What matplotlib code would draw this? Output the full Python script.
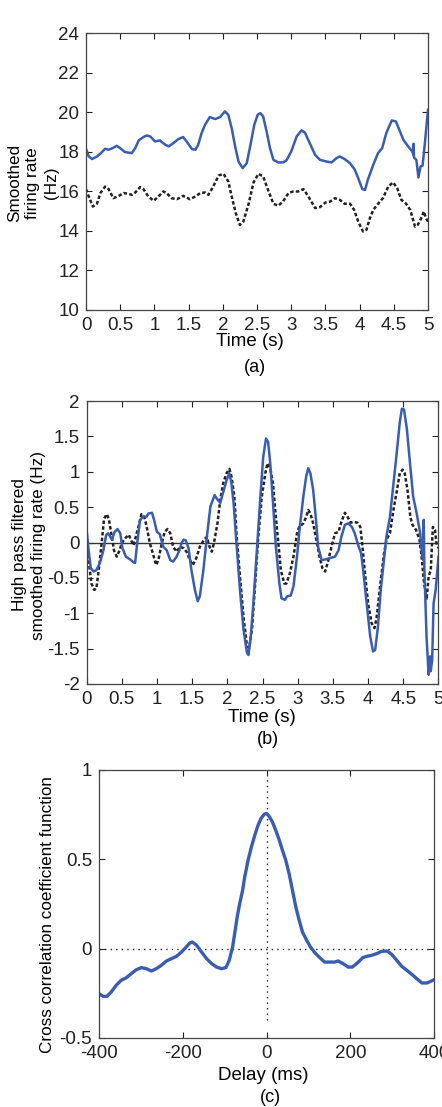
import numpy as np
import matplotlib
matplotlib.use("Agg")
from matplotlib import pyplot as plt

plt.rcParams['font.family'] = ['Liberation Sans', 'DejaVu Sans']

BLUE = '#3a5db3'
DARK = '#222222'

# ---- panel (a): smoothed firing rate ----
t_a_blue = [0, 0.04, 0.09, 0.16, 0.21, 0.28, 0.33, 0.40, 0.45, 0.50, 0.57, 0.67, 0.72, 0.77,
            0.84, 0.89, 0.94, 1.01, 1.08, 1.16, 1.21, 1.28, 1.35, 1.42, 1.47, 1.55, 1.60,
            1.64, 1.69, 1.74, 1.81, 1.89, 1.96, 2.03, 2.08, 2.13, 2.18, 2.23, 2.29, 2.35,
            2.40, 2.46, 2.51, 2.55, 2.59, 2.64, 2.69, 2.74, 2.81, 2.88, 2.93, 3.00, 3.08,
            3.15, 3.20, 3.27, 3.35, 3.42, 3.52, 3.59, 3.66, 3.71, 3.78, 3.86, 3.93, 3.98,
            4.04, 4.08, 4.12, 4.20, 4.27, 4.33, 4.39, 4.47, 4.53, 4.59, 4.64, 4.71, 4.77,
            4.785, 4.79, 4.795, 4.83, 4.86, 4.89, 4.92, 4.95, 5.0]
v_a_blue = [18.15, 17.76, 17.63, 17.76, 17.9, 18.15, 18.1, 18.2, 18.3, 18.18, 17.98, 17.93,
            18.18, 18.57, 18.74, 18.82, 18.77, 18.52, 18.57, 18.35, 18.27, 18.44, 18.64,
            18.74, 18.52, 18.13, 18.1, 18.35, 18.94, 19.36, 19.75, 19.65, 19.75, 20.04,
            19.87, 19.19, 18.27, 17.5, 17.17, 17.42, 18.27, 19.36, 19.87, 19.95, 19.78,
            19.03, 18.18, 17.59, 17.46, 17.46, 17.56, 18.01, 18.77, 19.08, 18.97, 18.44,
            17.84, 17.59, 17.5, 17.46, 17.67, 17.76, 17.63, 17.42, 17.09, 16.66, 16.11,
            16.07, 16.58, 17.34, 17.93, 18.18, 18.94, 19.58, 19.53, 19.03, 18.6, 18.27,
            18.01, 17.85, 18.4, 17.7, 17.59, 16.7, 17.25, 17.29, 18.27, 20.12]

t_a_black = [0, 0.04, 0.10, 0.16, 0.21, 0.28, 0.33, 0.40, 0.48, 0.55, 0.62, 0.67, 0.72,
             0.79, 0.84, 0.91, 0.99, 1.06, 1.13, 1.18, 1.25, 1.33, 1.42, 1.52, 1.60, 1.67,
             1.74, 1.79, 1.86, 1.94, 2.01, 2.08, 2.13, 2.19, 2.25, 2.30, 2.38, 2.45, 2.52,
             2.59, 2.67, 2.74, 2.81, 2.88, 2.96, 3.03, 3.10, 3.18, 3.25, 3.35, 3.42, 3.50,
             3.57, 3.64, 3.71, 3.78, 3.86, 3.92, 3.98, 4.05, 4.10, 4.15, 4.20, 4.27, 4.34,
             4.42, 4.49, 4.55, 4.61, 4.68, 4.74, 4.81, 4.85, 4.90, 4.94, 4.97, 5.0]
v_a_black = [16.11, 15.74, 15.23, 15.37, 15.91, 16.24, 16.11, 15.65, 15.77, 15.91, 15.87,
             15.82, 15.94, 16.21, 16.11, 15.74, 15.52, 15.74, 15.99, 15.91, 15.65, 15.6,
             15.77, 15.6, 15.74, 15.91, 15.94, 15.82, 16.24, 16.8, 16.88, 16.5, 15.74,
             14.89, 14.3, 14.47, 15.4, 16.45, 16.88, 16.75, 15.99, 15.37, 15.27, 15.48,
             15.91, 15.99, 15.99, 16.11, 15.74, 15.15, 15.2, 15.43, 15.48, 15.65, 15.57,
             15.37, 15.37, 15.06, 14.47, 13.97, 14.05, 14.64, 15.06, 15.37, 15.65, 16.24,
             16.45, 16.16, 15.57, 15.37, 15.06, 14.22, 14.3, 14.64, 14.98, 14.64, 14.47]

# ---- panel (b): high pass filtered ----
t_b_blue = [0, 0.03, 0.06, 0.10, 0.14, 0.19, 0.24, 0.28, 0.31, 0.36, 0.40, 0.44, 0.48,
            0.51, 0.56, 0.62, 0.67, 0.69, 0.72, 0.76, 0.81, 0.85, 0.88, 0.93, 0.96, 1.00,
            1.04, 1.09, 1.14, 1.19, 1.23, 1.28, 1.32, 1.35, 1.38, 1.41, 1.45, 1.49, 1.54,
            1.58, 1.61, 1.66, 1.71, 1.76, 1.82, 1.85, 1.90, 1.95, 1.99, 2.03, 2.06, 2.09,
            2.13, 2.18, 2.23, 2.28, 2.30, 2.33, 2.37, 2.42, 2.47, 2.51, 2.55, 2.58, 2.61,
            2.65, 2.69, 2.74, 2.77, 2.82, 2.85, 2.90, 2.94, 2.99, 3.03, 3.08, 3.12, 3.15,
            3.18, 3.22, 3.26, 3.29, 3.34, 3.39, 3.46, 3.53, 3.58, 3.62, 3.67, 3.72, 3.77,
            3.81, 3.86, 3.90, 3.93, 3.98, 4.03, 4.07, 4.10, 4.14, 4.18, 4.23, 4.26, 4.31,
            4.36, 4.41, 4.45, 4.48, 4.51, 4.55, 4.60, 4.64, 4.69, 4.74, 4.77, 4.785, 4.79,
            4.80, 4.83, 4.86, 4.88, 4.89, 4.91, 4.93, 4.96, 5.0]
v_b_blue = [0.19, -0.11, -0.36, -0.41, -0.39, -0.29, -0.11, 0.11, 0.13, 0.04, 0.15, 0.19,
            0.13, -0.08, -0.2, -0.24, -0.28, -0.29, -0.01, 0.32, 0.37, 0.36, 0.41, 0.42,
            0.32, 0.15, 0.12, -0.06, -0.11, -0.25, -0.27, -0.2, -0.11, -0.01, 0.04, 0.03,
            -0.08, -0.39, -0.67, -0.83, -0.76, -0.39, 0.08, 0.51, 0.67, 0.62, 0.56, 0.74,
            0.88, 0.98, 0.83, 0.55, -0.01, -0.67, -1.23, -1.56, -1.59, -1.37, -0.86,
            -0.11, 0.65, 1.21, 1.47, 1.42, 1.12, 0.55, -0.06, -0.58, -0.79, -0.81, -0.76,
            -0.75, -0.62, -0.2, 0.22, 0.65, 0.93, 1.05, 0.98, 0.74, 0.32, -0.06, -0.25,
            -0.24, -0.22, -0.2, -0.11, 0.08, 0.25, 0.27, 0.22, 0.13, -0.04, -0.15, -0.39,
            -0.86, -1.33, -1.54, -1.52, -1.19, -0.67, -0.2, 0.08, 0.36, 0.83, 1.3, 1.7,
            1.89, 1.88, 1.61, 1.07, 0.65, 0.41, 0.13, -0.2, -0.25, 0.32, -0.39, -1.33,
            -1.87, -1.61, -1.82, -1.66, -0.86, -0.67, -0.2]

t_b_black = [0, 0.03, 0.07, 0.11, 0.14, 0.18, 0.22, 0.25, 0.29, 0.32, 0.36, 0.39, 0.43,
             0.47, 0.50, 0.55, 0.60, 0.63, 0.67, 0.70, 0.75, 0.78, 0.82, 0.85, 0.90, 0.95,
             0.99, 1.02, 1.07, 1.11, 1.15, 1.19, 1.23, 1.28, 1.33, 1.38, 1.42, 1.47, 1.51,
             1.56, 1.61, 1.67, 1.71, 1.74, 1.78, 1.81, 1.86, 1.90, 1.94, 1.99, 2.03, 2.06,
             2.10, 2.13, 2.18, 2.23, 2.28, 2.31, 2.35, 2.39, 2.44, 2.49, 2.54, 2.57, 2.61,
             2.65, 2.68, 2.73, 2.76, 2.81, 2.84, 2.89, 2.94, 2.99, 3.02, 3.08, 3.12, 3.15,
             3.18, 3.22, 3.26, 3.31, 3.35, 3.39, 3.43, 3.48, 3.53, 3.58, 3.62, 3.67, 3.71,
             3.75, 3.80, 3.85, 3.89, 3.92, 3.96, 4.00, 4.05, 4.09, 4.12, 4.17, 4.22, 4.26,
             4.31, 4.36, 4.41, 4.45, 4.49, 4.52, 4.56, 4.60, 4.63, 4.68, 4.73, 4.76, 4.79,
             4.83, 4.86, 4.89, 4.92, 4.95, 4.97, 5.0]
v_b_black = [-0.01, -0.25, -0.58, -0.67, -0.65, -0.34, 0.04, 0.34, 0.4, 0.32, 0.08, -0.11,
             -0.2, -0.11, -0.01, 0.06, 0.11, 0.04, -0.04, 0.08, 0.27, 0.4, 0.36, 0.25,
             -0.01, -0.18, -0.32, -0.25, -0.01, 0.15, 0.19, 0.13, -0.06, -0.13, -0.06,
             -0.08, -0.13, -0.25, -0.32, -0.22, -0.06, 0.04, 0.08, -0.04, -0.13, -0.01,
             0.27, 0.6, 0.83, 0.98, 1.04, 0.93, 0.65, 0.13, -0.48, -1.05, -1.47, -1.49,
             -1.23, -0.67, 0.08, 0.65, 0.98, 1.12, 1.05, 0.83, 0.46, -0.06, -0.39, -0.58,
             -0.58, -0.43, -0.2, 0.13, 0.22, 0.27, 0.36, 0.46, 0.41, 0.27, 0.06, -0.2,
             -0.36, -0.41, -0.27, -0.06, 0.13, 0.15, 0.29, 0.42, 0.36, 0.28, 0.29, 0.28,
             0.22, -0.06, -0.48, -0.86, -1.14, -1.21, -1.07, -0.62, -0.2, 0.04, 0.13, 0.46,
             0.74, 0.98, 1.03, 0.98, 0.74, 0.36, 0.25, 0.18, 0.04, -0.2, -0.53, -0.81,
             -0.48, -0.39, 0.22, 0.18, -0.01, -0.08]

# ---- panel (c): cross correlation ----
delay_ms = [-400, -390, -381, -371, -359, -347, -335, -323, -311, -299, -287, -275, -263,
            -251, -239, -227, -215, -203, -193, -183, -177, -167, -155, -143, -131, -119,
            -108, -97, -89, -81, -76, -70, -64, -57, -52, -44, -36, -28, -20, -13, -5, 0,
            6, 14, 22, 30, 38, 46, 54, 62, 70, 78, 86, 96, 105, 116, 127, 139, 151, 163,
            171, 183, 195, 205, 217, 230, 239, 251, 263, 275, 288, 299, 311, 323, 335,
            347, 359, 371, 383, 392, 400]
xcorr = [-0.252, -0.267, -0.267, -0.243, -0.205, -0.177, -0.163, -0.14, -0.118, -0.106,
         -0.112, -0.125, -0.112, -0.093, -0.069, -0.056, -0.043, -0.019, 0.006, 0.032,
         0.037, 0.019, -0.019, -0.056, -0.084, -0.103, -0.112, -0.106, -0.065, 0.009,
         0.084, 0.177, 0.252, 0.327, 0.402, 0.495, 0.57, 0.635, 0.692, 0.729, 0.753,
         0.757, 0.742, 0.71, 0.663, 0.611, 0.551, 0.495, 0.42, 0.327, 0.234, 0.159, 0.093,
         0.047, 0.009, -0.024, -0.05, -0.075, -0.075, -0.075, -0.069, -0.084, -0.103,
         -0.103, -0.08, -0.05, -0.043, -0.037, -0.028, -0.015, -0.013, -0.032, -0.065,
         -0.099, -0.121, -0.144, -0.168, -0.192, -0.192, -0.183, -0.174]

time_ticks = [0, 0.5, 1, 1.5, 2, 2.5, 3, 3.5, 4, 4.5, 5]
time_ticklabels = ['0', '0.5', '1', '1.5', '2', '2.5', '3', '3.5', '4', '4.5', '5']

W, H = 442, 1107
fig = plt.figure(figsize=(W / 100, H / 100), dpi=100)

TICK_FS = 13.5
LAB_FS = 13.5
VLAB_FS = 12.3


def box(l, t, r, b):
    return [l / W, 1 - b / H, (r - l) / W, (b - t) / H]


def ftext(x, y, s, **kw):
    fig.text(x / W, 1 - y / H, s, ha='center', va='center', **kw)


def style(ax):
    ax.tick_params(direction='in', top=True, right=True, length=4, width=0.8,
                   labelsize=TICK_FS, colors='#222222', pad=5)
    for sp in ax.spines.values():
        sp.set_color('#444444')
        sp.set_linewidth(0.9)


dash = (0, (1.4, 0.9))

# (a)
ax1 = fig.add_axes(box(86, 33, 428, 310))
ax1.plot(t_a_blue, v_a_blue, color=BLUE, lw=1.8)
ax1.plot(t_a_black, v_a_black, color=DARK, lw=1.8, linestyle=dash)
ax1.set_xlim(0, 5)
ax1.set_ylim(10, 24)
ax1.set_xticks(time_ticks)
ax1.set_xticklabels(time_ticklabels)
ax1.set_yticks(range(10, 25, 2))
style(ax1)
ftext(250, 342, 'Time (s)', fontsize=LAB_FS)
ftext(255, 368, '(a)', fontsize=13)
ftext(33, 183, 'Smoothed\nfiring rate\n(Hz)', fontsize=VLAB_FS, rotation=90,
      linespacing=1.3, multialignment='center')

# (b)
ax2 = fig.add_axes(box(86.5, 401, 438.5, 684))
ax2.axhline(0, color='#333333', lw=1.0)
ax2.plot(t_b_black, v_b_black, color=DARK, lw=1.8, linestyle=dash)
ax2.plot(t_b_blue, v_b_blue, color=BLUE, lw=1.8)
ax2.set_xlim(0, 5)
ax2.set_ylim(-2, 2)
ax2.set_xticks(time_ticks)
ax2.set_xticklabels(time_ticklabels)
ax2.set_yticks([-2, -1.5, -1, -0.5, 0, 0.5, 1, 1.5, 2])
ax2.set_yticklabels(['-2', '-1.5', '-1', '-0.5', '0', '0.5', '1', '1.5', '2'])
style(ax2)
ftext(262, 717, 'Time (s)', fontsize=LAB_FS)
ftext(268, 740, '(b)', fontsize=13)
ftext(29, 545, 'High pass filtered\nsmoothed firing rate (Hz)', fontsize=VLAB_FS,
      rotation=90, linespacing=1.3, multialignment='center')

# (c)
ax3 = fig.add_axes(box(99, 770, 434, 1038))
ax3.axhline(0, color=DARK, lw=1.0, linestyle=(0, (1, 3)))
ax3.plot([0, 0], [-0.4, 0.95], color=DARK, lw=1.0, linestyle=(0, (1, 3)))
ax3.plot(delay_ms, xcorr, color=BLUE, lw=2.4)
ax3.set_xlim(-400, 400)
ax3.set_ylim(-0.5, 1)
ax3.set_xticks([-400, -200, 0, 200, 400])
ax3.set_xticklabels(['-400', '-200', '0', '200', '400'])
ax3.set_yticks([-0.5, 0, 0.5, 1])
ax3.set_yticklabels(['-0.5', '0', '0.5', '1'])
style(ax3)
ftext(263, 1075, 'Delay (ms)', fontsize=LAB_FS)
ftext(270, 1098, '(c)', fontsize=13)
ftext(48, 915, 'Cross correlation coefficient function', fontsize=VLAB_FS, rotation=90)

fig.savefig('out.png', dpi=100)
